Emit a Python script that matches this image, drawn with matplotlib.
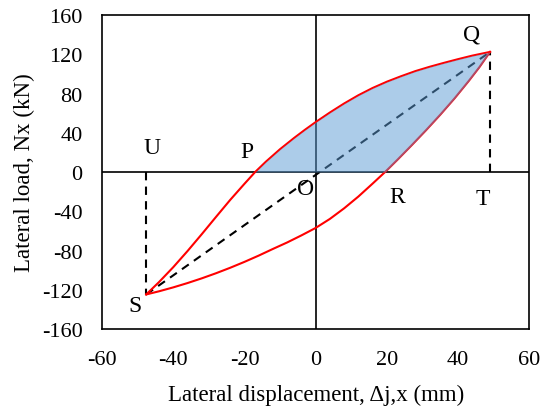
import numpy as np
import matplotlib
matplotlib.use("Agg")
from matplotlib import pyplot as plt

# Hysteresis loop: upper (loading) and lower (unloading) branches, mm / kN
upper_x = [-47.6, -44, -40, -36, -32, -28, -24, -20, -17, -14, -10, -6, -3,
           0, 4, 8, 12, 16, 20, 24, 28, 32, 36, 40, 44, 49]
upper_y = [-124.8, -112.2, -97.0, -80.6, -63.4, -45.8, -28.4, -12.0, 0.0, 10.5, 23.3, 34.9, 43.1,
           50.9, 60.7, 69.9, 78.3, 85.7, 92.1, 97.7, 102.9, 107.3, 111.3, 115.1, 118.7, 122.5]

lower_x = [-47.6, -44, -40, -36, -32, -28, -24, -20, -16, -12, -8, -4,
           0, 4, 8, 12, 16, 19.5, 23, 27, 31, 35, 39, 43, 46, 49]
lower_y = [-124.8, -121.6, -117.6, -113.2, -108.4, -103.2, -97.6, -91.6, -85.2, -78.4, -71.8, -64.6,
           -57.0, -47.8, -37.0, -25.0, -11.8, 0.0, 12.6, 27.4, 42.6, 58.4, 75.0, 92.8, 106.9, 122.5]

# peak points S and Q
peak_x = [-47.6, 49.0]
peak_y = [-124.8, 122.5]

# point labels and where they sit
point_names = ["U", "P", "O", "R", "T", "Q", "S"]
point_x = [-46.0, -19.3, -2.9, 22.8, 47.1, 43.9, -50.7]
point_y = [25.0, 21.0, -17.0, -25.0, -27.0, 141.0, -136.0]

x_ticks = [-60, -40, -20, 0, 20, 40, 60]
y_ticks = [-160, -120, -80, -40, 0, 40, 80, 120, 160]

plt.rcParams["font.family"] = ["Liberation Serif", "DejaVu Serif"]
plt.rcParams["axes.unicode_minus"] = False

fig = plt.figure(figsize=(5.4, 4.14), dpi=100)
ax = fig.add_axes([0.189, 0.203, 0.791, 0.758])

# zero lines
ax.axhline(0, color="black", lw=1.2, zorder=2)
ax.axvline(0, color="black", lw=1.2, zorder=2)

# secant S-Q and the two verticals to the zero line
dash = (0, (4, 3))
ax.plot(peak_x, peak_y, color="black", lw=1.5, ls=dash, zorder=3)
ax.plot([peak_x[0], peak_x[0]], [0, peak_y[0]], color="black", lw=1.5, ls=dash, zorder=3)
ax.plot([peak_x[1], peak_x[1]], [0, peak_y[1]], color="black", lw=1.5, ls=dash, zorder=3)

ax.plot(upper_x, upper_y, color="red", lw=1.5, zorder=4)
ax.plot(lower_x, lower_y, color="red", lw=1.5, zorder=4)

# shaded area above the x axis, between the two branches
fx = np.array(sorted(set(upper_x + lower_x)))
fx = fx[fx >= -17.0]
up = np.interp(fx, upper_x, upper_y)
lo = np.maximum(np.interp(fx, lower_x, lower_y), 0)
ax.fill_between(fx, lo, up, where=up >= lo, color="#5B9BD5", alpha=0.5, lw=0, zorder=5)

for name, px, py in zip(point_names, point_x, point_y):
    ax.text(px, py, name, fontsize=17, ha="center", va="center", zorder=6)

ax.set_xlim(-60, 60)
ax.set_ylim(-160, 160)
ax.set_xticks(x_ticks)
ax.set_yticks(y_ticks)
ax.tick_params(length=0, labelsize=16)
ax.tick_params(axis="x", pad=15)
ax.tick_params(axis="y", pad=14)
for sp in ax.spines.values():
    sp.set_linewidth(1.2)

ax.set_xlabel("Lateral displacement, \u0394j,x (mm)", fontsize=16.5, labelpad=11)
ax.set_ylabel("Lateral load, Nx (kN)", fontsize=16.5, labelpad=5)

fig.savefig("out.png", dpi=100)
